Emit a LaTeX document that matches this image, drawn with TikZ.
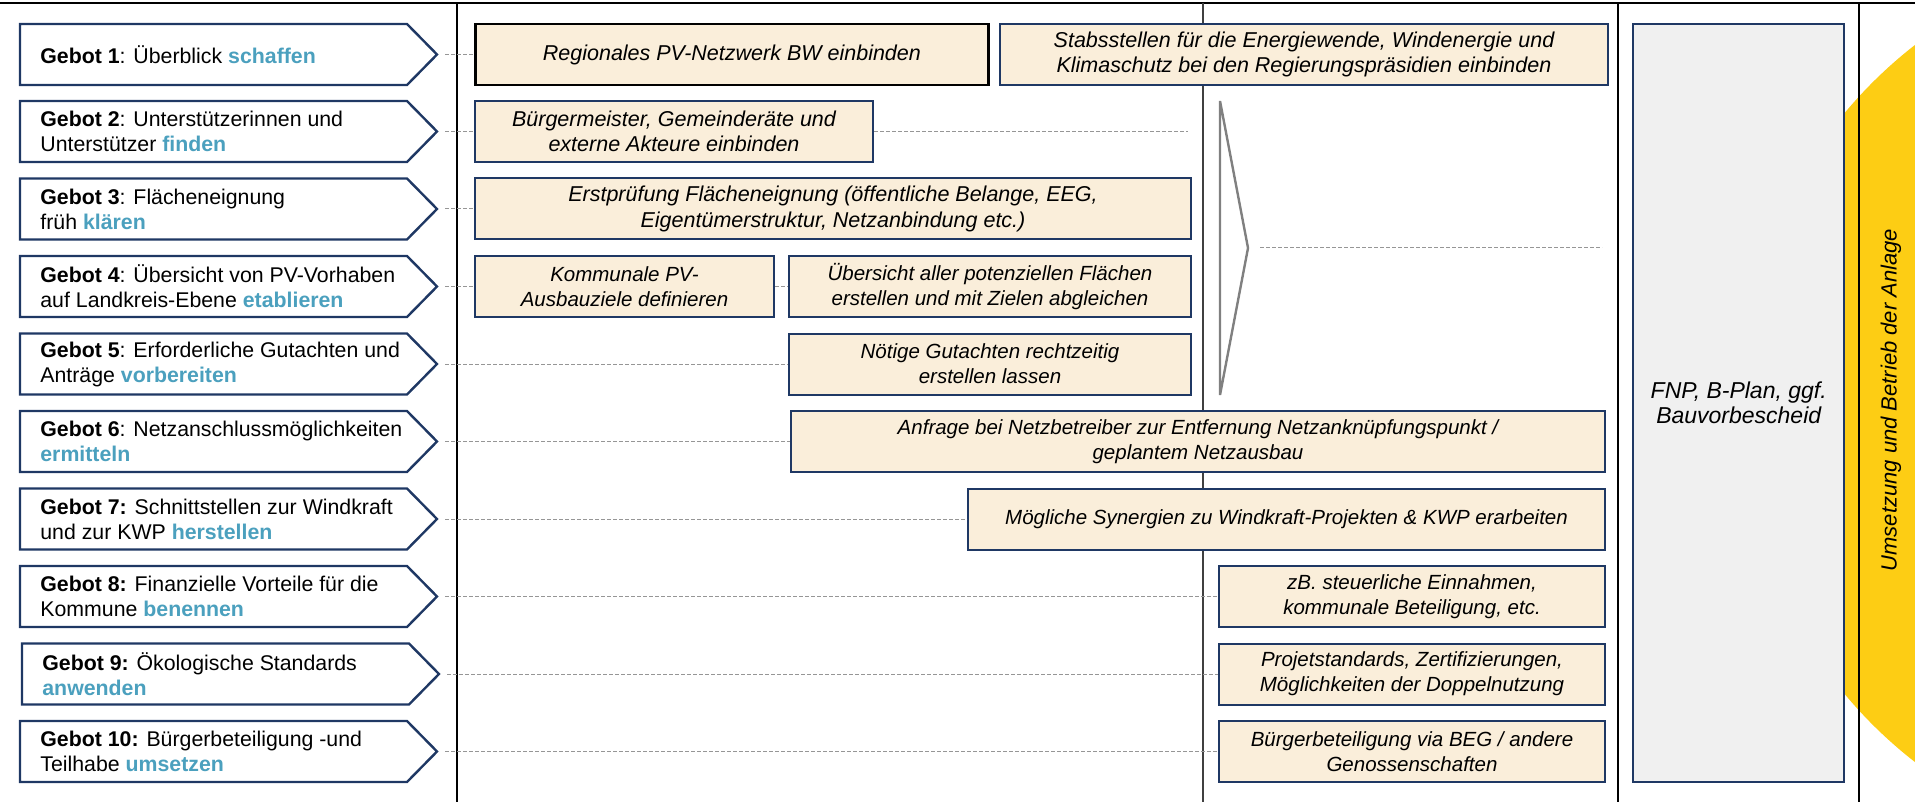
\documentclass[tikz,border=0pt]{standalone}
\usepackage{fontspec}
\setmainfont{Liberation Sans}
\usepackage{xcolor}
\usepackage{tikz}
\usetikzlibrary{calc}
\usetikzlibrary{positioning}

\definecolor{navy}{RGB}{31,56,100}
\definecolor{cream}{RGB}{250,238,218}
\definecolor{keyblue}{RGB}{75,160,190}
\definecolor{boxgray}{RGB}{240,240,240}
\definecolor{sunyellow}{RGB}{253,205,20}
\definecolor{linegray}{RGB}{150,150,150}
\definecolor{chevgray}{RGB}{128,128,128}

\newcommand{\keyw}[1]{\textbf{\textcolor{keyblue}{#1}}}

\tikzset{
	gebot/.style={draw=navy, line width=1.2pt, fill=white, line join=miter},
	gebottext/.style={anchor=west, align=left, inner sep=0pt, font=\fontsize{10.65}{12.5}\selectfont},
	infobox/.style={draw=navy, line width=1pt, fill=cream, anchor=west, minimum height=30.5pt, inner sep=2pt, align=center, font=\fontsize{10.75}{12.8}\selectfont\itshape},
	smallbox/.style={infobox, font=\fontsize{10.25}{12.6}\selectfont\itshape},
	link/.style={draw=linegray, line width=0.5pt, dash pattern=on 2pt off 1pt},
	divider/.style={draw=black, line width=0.6pt},
}

\begin{document}
\begin{tikzpicture}[x=0.5pt, y=-0.5pt]
	\useasboundingbox (0,0) rectangle (1915,802);
	\begin{scope}
		\clip (0,0) rectangle (1915,802);
		\fill[sunyellow] (2193.5,403.5) circle [radius=227pt];
	\end{scope}
	\draw[divider] (0,3) -- (1915,3);
	\draw[divider] (457,3) -- (457,802);
	\draw[divider, draw=black!75] (1203,3) -- (1203,802);
	\draw[divider] (1618,3) -- (1618,802);
	\draw[divider] (1859,3) -- (1859,802);

	\draw[gebot] (20,24) -- (407,24) -- (437,54.5) -- (407,85) -- (20,85) -- cycle;
	\node[gebottext] (g1) at (40,54.5) {\textbf{Gebot 1}: Überblick \keyw{schaffen}};
	\coordinate (t1) at (437,54.5);
	\draw[gebot] (20,101) -- (407,101) -- (437,131.5) -- (407,162) -- (20,162) -- cycle;
	\node[gebottext] (g2) at (40,131.5) {\textbf{Gebot 2}: Unterstützerinnen und\\Unterstützer \keyw{finden}};
	\coordinate (t2) at (437,131.5);
	\draw[gebot] (20,178.5) -- (407,178.5) -- (437,209) -- (407,239.5) -- (20,239.5) -- cycle;
	\node[gebottext] (g3) at (40,209) {\textbf{Gebot 3}: Flächeneignung\\früh \keyw{klären}};
	\coordinate (t3) at (437,209);
	\draw[gebot] (20,256) -- (407,256) -- (437,286.5) -- (407,317) -- (20,317) -- cycle;
	\node[gebottext] (g4) at (40,286.5) {\textbf{Gebot 4}: Übersicht von PV-Vorhaben\\auf Landkreis-Ebene \keyw{etablieren}};
	\coordinate (t4) at (437,286.5);
	\draw[gebot] (20,333.5) -- (407,333.5) -- (437,364) -- (407,394.5) -- (20,394.5) -- cycle;
	\node[gebottext] (g5) at (40,364) {\textbf{Gebot 5}: Erforderliche Gutachten und\\Anträge \keyw{vorbereiten}};
	\coordinate (t5) at (437,364);
	\draw[gebot] (20,411) -- (407,411) -- (437,441.5) -- (407,472) -- (20,472) -- cycle;
	\node[gebottext] (g6) at (40,441.5) {\textbf{Gebot 6}: Netzanschlussmöglichkeiten\\\keyw{ermitteln}};
	\coordinate (t6) at (437,441.5);
	\draw[gebot] (20,488.5) -- (407,488.5) -- (437,519) -- (407,549.5) -- (20,549.5) -- cycle;
	\node[gebottext] (g7) at (40,519) {\textbf{Gebot 7:} Schnittstellen zur Windkraft\\und zur KWP \keyw{herstellen}};
	\coordinate (t7) at (437,519);
	\draw[gebot] (20,566) -- (407,566) -- (437,596.5) -- (407,627) -- (20,627) -- cycle;
	\node[gebottext] (g8) at (40,596.5) {\textbf{Gebot 8:} Finanzielle Vorteile für die\\Kommune \keyw{benennen}};
	\coordinate (t8) at (437,596.5);
	\draw[gebot] (22,643.5) -- (409,643.5) -- (439,674) -- (409,704.5) -- (22,704.5) -- cycle;
	\node[gebottext] (g9) at (42,674) {\textbf{Gebot 9:} Ökologische Standards\\\keyw{anwenden}};
	\coordinate (t9) at (439,674);
	\draw[gebot] (20,721) -- (407,721) -- (437,751.5) -- (407,782) -- (20,782) -- cycle;
	\node[gebottext] (g10) at (40,751.5) {\textbf{Gebot 10:} Bürgerbeteiligung -und\\Teilhabe \keyw{umsetzen}};
	\coordinate (t10) at (437,751.5);

	\draw[chevgray, line width=1.2pt, line join=miter] (1220,101) -- (1248,248) -- (1220,395) -- cycle;
	\coordinate (chev) at (1248,248);
	\coordinate (e11) at (1602,248);
	\coordinate (e2) at (1188,131.5);

	\node[infobox, draw=black, line width=1.4pt, minimum width=256.5pt] (b1) at (474,54.5) {Regionales PV-Netzwerk BW einbinden};
	\node[infobox, minimum width=304pt] (b1s) at (999,54.5) {Stabsstellen für die Energiewende, Windenergie und\\Klimaschutz bei den Regierungspräsidien einbinden};
	\node[infobox, minimum width=199pt] (b2) at (474,131.5) {Bürgermeister, Gemeinderäte und\\externe Akteure einbinden};
	\node[infobox, minimum width=358pt] (b3) at (474,209) {Erstprüfung Flächeneignung (öffentliche Belange, EEG,\\Eigentümerstruktur, Netzanbindung etc.)};
	\node[smallbox, minimum width=149.5pt] (b4) at (474,286.5) {Kommunale PV-\\Ausbauziele definieren};
	\node[smallbox, minimum width=201pt] (b4u) at (788,286.5) {Übersicht aller potenziellen Flächen\\erstellen und mit Zielen abgleichen};
	\node[smallbox, minimum width=201pt] (b5) at (788,364) {Nötige Gutachten rechtzeitig\\erstellen lassen};
	\node[smallbox, minimum width=407pt] (b6) at (790,441.5) {Anfrage bei Netzbetreiber zur Entfernung Netzanknüpfungspunkt /\\geplantem Netzausbau};
	\node[smallbox, minimum width=318.5pt] (b7) at (967,519) {Mögliche Synergien zu Windkraft-Projekten \& KWP erarbeiten};
	\node[smallbox, minimum width=193pt] (b8) at (1218,596.5) {zB. steuerliche Einnahmen,\\kommunale Beteiligung, etc.};
	\node[smallbox, minimum width=193pt] (b9) at (1218,674) {Projetstandards, Zertifizierungen,\\Möglichkeiten der Doppelnutzung};
	\node[smallbox, minimum width=193pt] (b10) at (1218,751.5) {Bürgerbeteiligung via BEG / andere\\Genossenschaften};

	\draw[link] ([xshift=4pt]t1) -- (b1.west);
	\draw[link] ([xshift=4pt]t2) -- (b2.west);
	\draw[link] (b2.east) -- (e2);
	\draw[link] ([xshift=4pt]t3) -- (b3.west);
	\draw[link] ([xshift=4pt]t4) -- (b4.west);
	\draw[link] (b4.east) -- (b4u.west);
	\draw[link] ([xshift=4pt]t5) -- (b5.west);
	\draw[link] ([xshift=4pt]t6) -- (b6.west);
	\draw[link] ([xshift=4pt]t7) -- (b7.west);
	\draw[link] ([xshift=4pt]t8) -- (b8.west);
	\draw[link] ([xshift=4pt]t9) -- (b9.west);
	\draw[link] ([xshift=4pt]t10) -- (b10.west);
	\draw[link] ([xshift=6pt]chev) -- (e11);

	\node[draw=navy, line width=1.2pt, fill=boxgray, minimum width=105.5pt, minimum height=379pt, anchor=west, align=center, inner sep=2pt, font=\fontsize{11.5}{12.5}\selectfont\itshape] (fnp) at (1632,403) {FNP, B-Plan, ggf.\\Bauvorbescheid};
	\node[rotate=90, font=\fontsize{11}{13}\selectfont\itshape] (phase) at (1891,400) {Umsetzung und Betrieb der Anlage};
\end{tikzpicture}
\end{document}
